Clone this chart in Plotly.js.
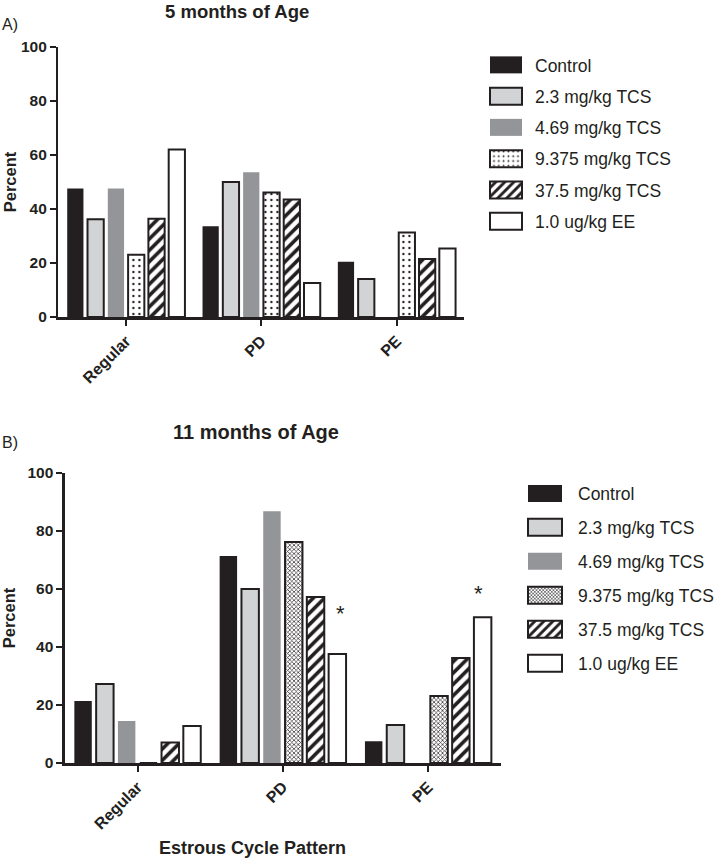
<!DOCTYPE html>
<html>
<head>
<meta charset="utf-8">
<script src="https://cdn.plot.ly/plotly-3.0.1.min.js"></script>
<style>html,body{margin:0;padding:0;background:#fff;}#chart{width:719px;height:858px;}</style>
</head>
<body>
<div id="chart"></div>
<script>
// ---- data ----
const categories = ['Regular', 'PD', 'PE'];
const seriesNames = ['Control', '2.3 mg/kg TCS', '4.69 mg/kg TCS', '9.375 mg/kg TCS', '37.5 mg/kg TCS', '1.0 ug/kg EE'];

// Panel A: 5 months of age (percent)
const control5  = [47.6, 33.6, 20.5];
const tcs23_5   = [36.2, 50.0, 14.1];
const tcs469_5  = [47.6, 53.6, 0];
const tcs9375_5 = [23.1, 46.1, 31.3];
const tcs375_5  = [36.4, 43.5, 21.5];
const ee5       = [62.0, 12.6, 25.4];

// Panel B: 11 months of age (percent)
const control11  = [21.4, 71.4, 7.5];
const tcs23_11   = [27.2, 60.0, 13.1];
const tcs469_11  = [14.5, 86.8, 0];
const tcs9375_11 = [0, 76.2, 23.1];
const tcs375_11  = [7.1, 57.2, 36.2];
const ee11       = [12.8, 37.6, 50.3];

const yTicks = [0, 20, 40, 60, 80, 100];

// ---- styles ----
const INK = '#231f20';
const FONT = 'Liberation Sans, Arial, Helvetica, sans-serif';
const styles = [
  {color: INK, line: {color: INK, width: 0}},
  {color: '#d1d3d4', line: {color: INK, width: 2}},
  {color: '#939598', line: {color: '#939598', width: 0}},
  null, // 9.375 — differs per panel
  {color: '#ffffff', line: {color: INK, width: 2}, pattern: {shape: '/', fgcolor: INK, bgcolor: '#ffffff', size: 8, solidity: 0.45}},
  {color: '#ffffff', line: {color: INK, width: 2}}
];
const dots = {color: '#ffffff', line: {color: INK, width: 2}, pattern: {shape: '.', fgcolor: INK, bgcolor: '#ffffff', size: 6, solidity: 0.12}};
const checker = {color: '#ffffff', line: {color: INK, width: 2}, pattern: {shape: 'x', fgcolor: INK, bgcolor: '#ffffff', size: 3, solidity: 0.4}};

const panelA = [control5, tcs23_5, tcs469_5, tcs9375_5, tcs375_5, ee5];
const panelB = [control11, tcs23_11, tcs469_11, tcs9375_11, tcs375_11, ee11];

const traces = [];
panelA.forEach((vals, i) => {
  traces.push({
    type: 'bar', x: categories, y: vals, name: seriesNames[i],
    xaxis: 'x', yaxis: 'y', legend: 'legend', legendgroup: 'a' + i,
    marker: i === 3 ? dots : styles[i], hoverinfo: 'skip'
  });
});
panelB.forEach((vals, i) => {
  traces.push({
    type: 'bar', x: categories, y: vals, name: seriesNames[i],
    xaxis: 'x2', yaxis: 'y2', legend: 'legend2', legendgroup: 'b' + i,
    marker: i === 3 ? checker : styles[i], hoverinfo: 'skip'
  });
});

const W = 719, H = 858;
const px = v => v / W;
const py = v => 1 - v / H;

function xAxis(domain) {
  return {
    domain: domain, type: 'category', range: [-0.5, 2.5],
    showline: true, linecolor: INK, linewidth: 2.5,
    ticks: 'outside', ticklen: 6, tickwidth: 2, tickcolor: INK,
    tickangle: -45, showgrid: false, zeroline: false, fixedrange: true,
    tickfont: {family: FONT, size: 16, color: INK, weight: 'bold'}
  };
}
function yAxis(domain, anchor, standoff) {
  return {
    domain: domain, anchor: anchor, range: [0, 100],
    tickvals: yTicks, showline: true, linecolor: INK, linewidth: 2.5,
    ticks: 'outside', ticklen: 6, tickwidth: 2, tickcolor: INK,
    showgrid: false, zeroline: false, fixedrange: true,
    tickfont: {family: FONT, size: 15.5, color: INK, weight: 'bold'},
    title: {text: 'Percent', standoff: standoff, font: {family: FONT, size: 16.5, color: INK, weight: 'bold'}}
  };
}

const legendBase = {
  traceorder: 'grouped', bgcolor: 'rgba(0,0,0,0)', borderwidth: 0,
  xanchor: 'left', yanchor: 'top',
  font: {family: FONT, size: 17.5, color: INK}
};

const layout = {
  width: W, height: H,
  margin: {l: 0, r: 0, t: 0, b: 0},
  paper_bgcolor: '#ffffff', plot_bgcolor: '#ffffff',
  barmode: 'group', bargap: 0.1, bargroupgap: 0.2,
  showlegend: true,
  xaxis: Object.assign(xAxis([px(58.5), px(465)]), {anchor: 'y'}),
  yaxis: yAxis([py(317), py(47)], 'x', 0),
  xaxis2: Object.assign(xAxis([px(65), px(501.5)]), {anchor: 'y2'}),
  yaxis2: yAxis([py(763), py(473)], 'x2', 20),
  legend: Object.assign({}, legendBase, {x: px(477), y: py(47), itemwidth: 48, tracegroupgap: 5.5}),
  legend2: Object.assign({}, legendBase, {x: px(513), y: py(475.5), itemwidth: 56, tracegroupgap: 8.2}),
  annotations: [
    {xref: 'paper', yref: 'paper', x: px(237), y: 1, text: '5 months of Age', showarrow: false,
     xanchor: 'center', yanchor: 'top', borderpad: 0, font: {family: FONT, size: 18.5, color: INK, weight: 'bold'}},
    {xref: 'paper', yref: 'paper', x: px(256), y: py(432), text: '11 months of Age', showarrow: false,
     xanchor: 'center', yanchor: 'middle', font: {family: FONT, size: 20, color: INK, weight: 'bold'}},
    {xref: 'paper', yref: 'paper', x: 0, y: py(25), text: 'A)', showarrow: false,
     xanchor: 'left', yanchor: 'middle', font: {family: FONT, size: 16, color: INK}},
    {xref: 'paper', yref: 'paper', x: 0, y: py(442), text: 'B)', showarrow: false,
     xanchor: 'left', yanchor: 'middle', font: {family: FONT, size: 16, color: INK}},
    {xref: 'paper', yref: 'paper', x: px(253), y: py(848), text: 'Estrous Cycle Pattern', showarrow: false,
     xanchor: 'center', yanchor: 'middle', font: {family: FONT, size: 18, color: INK, weight: 'bold'}},
    {xref: 'x2', yref: 'y2', x: 1.4, y: 51.5, text: '*', showarrow: false,
     xanchor: 'center', yanchor: 'middle', font: {family: FONT, size: 22, color: INK}},
    {xref: 'x2', yref: 'y2', x: 2.345, y: 58.5, text: '*', showarrow: false,
     xanchor: 'center', yanchor: 'middle', font: {family: FONT, size: 22, color: INK}}
  ]
};

Plotly.newPlot('chart', traces, layout, {staticPlot: true, displayModeBar: false}).then(gd => {
  // enlarge legend swatches to the wide boxes used in the reference
  gd.querySelectorAll('g.legend .legendpoints path').forEach(p => p.setAttribute('d', 'M16,8.5H-16V-8.5H16Z'));
  gd.querySelectorAll('g.legend2 .legendpoints path').forEach(p => p.setAttribute('d', 'M17,8.5H-17V-8.5H17Z'));
});
</script>
</body>
</html>
